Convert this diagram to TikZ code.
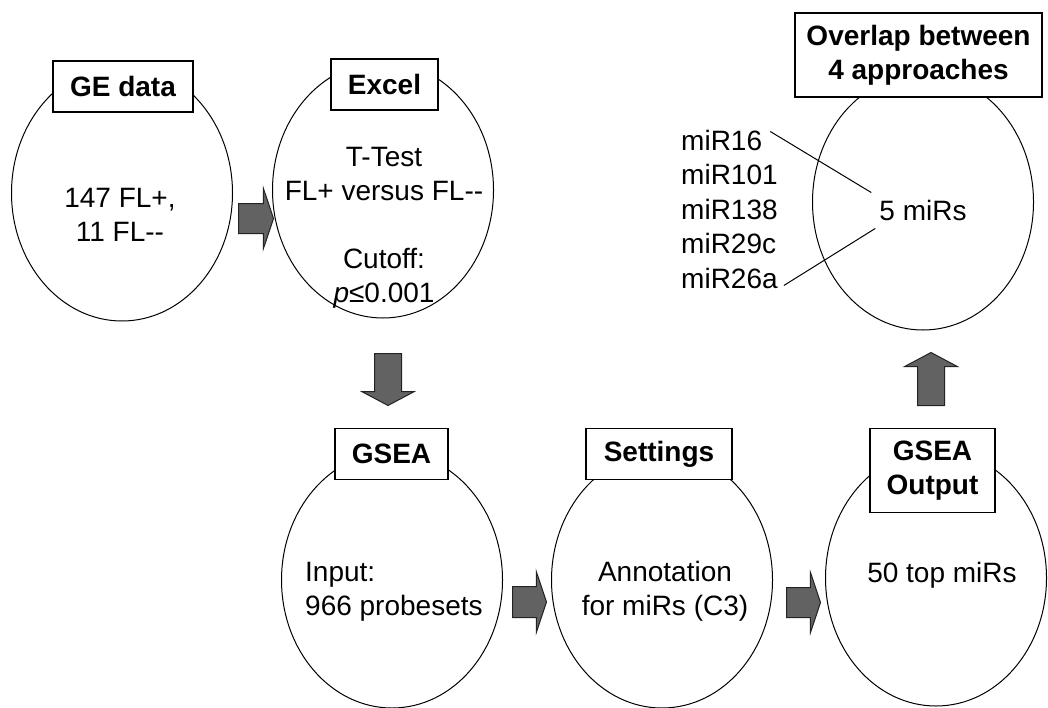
\documentclass[tikz,border=0pt]{standalone}
\usepackage{fontspec}
\setmainfont{Liberation Sans}
\usetikzlibrary{shapes.geometric,shapes.arrows}
\definecolor{aFill}{RGB}{98,98,98}
\definecolor{aLine}{RGB}{35,35,35}
\newcommand{\figfont}{\fontsize{28}{34}\selectfont}
\newcommand{\twohy}{\mbox{-}\mbox{-}}

\begin{document}
\begin{tikzpicture}[x=1pt,y=-1pt,
			bub/.style={
				ellipse,
				draw=black,
				line width=1pt,
				minimum width=221pt,
				minimum height=256pt,
				inner sep=0pt
			},
			lab/.style={
				draw=black,
				fill=white,
				line width=1.2pt,
				font=\figfont\bfseries,
				align=center,
				inner xsep=8pt,
				inner ysep=12pt,
				minimum height=51pt
			},
			txt/.style={font=\figfont,inner sep=0pt,align=center},
			arr/.style={
				single arrow,
				draw=aLine,
				fill=aFill,
				line width=1pt,
				inner xsep=0pt,
				anchor=tail
			}
			]
			\useasboundingbox (0,0) rectangle (1048,707);
			% ellipses
			\node[bub](ge) at (122,193) {};
			\node[bub](xl) at (383,190) {};
			\node[bub](ov) at (923,202) {};
			\node[bub](gs) at (392,580) {};
			\node[bub](st) at (662,580) {};
			\node[bub](go) at (936,578) {};
			% texts inside
			\node[txt](geT) at (120,215) {147 FL+,\\11 FL\twohy};
			\node[txt](xlT) at (384,227.5) {T-Test\\FL+ versus FL\twohy\\[34pt]Cutoff:\\\textit{p}≤0.001};
			\node[txt](five) at (923,210) {5 miRs};
			\node[txt,align=left,anchor=west](gsT) at (305,591.5) {Input:\\966 probesets};
			\node[txt](stT) at (665,591.5) {Annotation\\for miRs (C3)};
			\node[txt](goT) at (942,575) {50 top miRs};
			% miR list
			\node[txt,anchor=base west](m16) at (681,150) {miR16};
			\node[txt,anchor=base west](m101) at (681,184.5) {miR101};
			\node[txt,anchor=base west](m138) at (681,219) {miR138};
			\node[txt,anchor=base west](m29) at (681,253.5) {miR29c};
			\node[txt,anchor=base west](m26) at (681,288) {miR26a};
			\draw[line width=1pt] ([xshift=8pt,yshift=-2pt]m16.north east) -- ([xshift=-8pt,yshift=7pt]five.north west);
			\draw[line width=1pt] ([xshift=6pt,yshift=3pt]m26.south east) -- ([xshift=-4pt,yshift=-8pt]five.south west);
			% title boxes
			\node[lab,minimum width=140pt](geL) at (123,86.5) {GE data};
			\node[lab,minimum width=107pt](xlL) at (384.5,84.5) {Excel};
			\node[lab,minimum width=247pt](ovL) at (918.5,55) {Overlap between\\4 approaches};
			\node[lab,minimum width=113pt](gsL) at (391.5,454) {GSEA};
			\node[lab,minimum width=146pt](stL) at (659,454) {Settings};
			\node[lab,minimum width=125pt](goL) at (932.5,470.5) {GSEA\\Output};
			% block arrows
			\node[arr,minimum height=35pt,inner ysep=14.5pt,single arrow head extend=15.5pt,single arrow tip angle=143](a1) at (238,218.5) {};
			\node[arr,rotate=-90,minimum height=52pt,inner ysep=13pt,single arrow head extend=12.5pt,single arrow tip angle=124](a2) at (388,353) {};
			\node[arr,minimum height=34pt,inner ysep=15pt,single arrow head extend=15pt,single arrow tip angle=143](a3) at (512,602) {};
			\node[arr,minimum height=34pt,inner ysep=14.5pt,single arrow head extend=15pt,single arrow tip angle=143](a4) at (786,602.5) {};
			\node[arr,rotate=90,minimum height=53pt,inner ysep=13pt,single arrow head extend=13pt,single arrow tip angle=124](a5) at (931,406) {};
		\end{tikzpicture}
\end{document}
